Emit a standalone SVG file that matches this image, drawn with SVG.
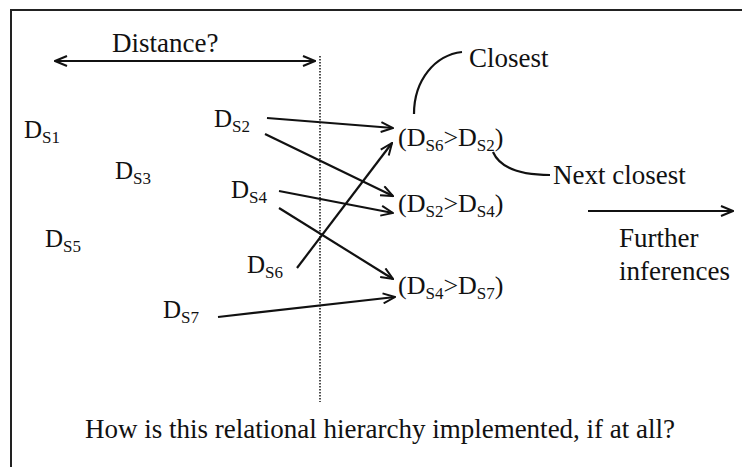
<svg xmlns="http://www.w3.org/2000/svg" width="742" height="467" viewBox="0 0 742 467">
<defs>
<style>
text{font-family:'Liberation Serif','Times New Roman','DejaVu Serif',serif;fill:#111}
.t{font-size:27px}
.d{font-size:25px}
.p{font-size:26px}
.s{font-size:17px}
.ln{stroke:#111;stroke-width:2.2;fill:none}
</style>
<marker id="ah" viewBox="0 0 14 12" refX="13" refY="6" markerWidth="14" markerHeight="12" markerUnits="userSpaceOnUse" orient="auto-start-reverse">
<path d="M1,1 L13,6 L1,11" fill="none" stroke="#111" stroke-width="2"/>
</marker>
</defs>
<rect width="742" height="467" fill="#fff"/>
<rect x="11" y="10" width="745" height="470" fill="none" stroke="#222" stroke-width="2"/>

<g font-family="Liberation Serif, Times New Roman, serif">
<g id="distance">
<text class="t" x="112" y="52">Distance?</text>
</g>
<g id="ds1"><text class="d" x="24" y="138">D<tspan class="s" dy="5">S1</tspan></text></g>
<g id="ds2"><text class="d" x="214" y="127">D<tspan class="s" dy="5">S2</tspan></text></g>
<g id="ds3"><text class="d" x="115" y="179">D<tspan class="s" dy="5">S3</tspan></text></g>
<g id="ds4"><text class="d" x="231" y="198">D<tspan class="s" dy="5">S4</tspan></text></g>
<g id="ds5"><text class="d" x="45" y="247">D<tspan class="s" dy="5">S5</tspan></text></g>
<g id="ds6"><text class="d" x="247" y="273">D<tspan class="s" dy="5">S6</tspan></text></g>
<g id="ds7"><text class="d" x="163" y="318">D<tspan class="s" dy="5">S7</tspan></text></g>

<g id="p62"><text class="p" x="398" y="146">(D<tspan class="s" dy="5">S6</tspan><tspan dy="-5">&gt;D</tspan><tspan class="s" dy="5">S2</tspan><tspan dy="-5">)</tspan></text></g>
<g id="p24"><text class="p" x="398" y="212">(D<tspan class="s" dy="5">S2</tspan><tspan dy="-5">&gt;D</tspan><tspan class="s" dy="5">S4</tspan><tspan dy="-5">)</tspan></text></g>
<g id="p47"><text class="p" x="398" y="294">(D<tspan class="s" dy="5">S4</tspan><tspan dy="-5">&gt;D</tspan><tspan class="s" dy="5">S7</tspan><tspan dy="-5">)</tspan></text></g>

<g id="closest"><text class="t" x="469" y="67">Closest</text></g>
<g id="nextclosest"><text class="t" x="553" y="184">Next closest</text></g>
<g id="further"><text class="t" x="619" y="247">Further</text><text class="t" x="619" y="280">inferences</text></g>
<g id="question"><text class="t" x="85" y="438">How is this relational hierarchy implemented, if at all?</text></g>
</g>

<line id="divider" x1="320" y1="56" x2="320" y2="402" stroke="#222" stroke-width="1.6" stroke-dasharray="1.5,1.5"/>

<g id="connectors">
<line class="ln" x1="55" y1="61" x2="315" y2="61" marker-start="url(#ah)" marker-end="url(#ah)"/>
<line class="ln" x1="267" y1="118" x2="393" y2="128" marker-end="url(#ah)"/>
<line class="ln" x1="265" y1="134" x2="393" y2="196" marker-end="url(#ah)"/>
<line class="ln" x1="279" y1="191" x2="393" y2="213" marker-end="url(#ah)"/>
<line class="ln" x1="279" y1="208" x2="393" y2="279" marker-end="url(#ah)"/>
<line class="ln" x1="297" y1="268" x2="392" y2="143" marker-end="url(#ah)"/>
<line class="ln" x1="218" y1="317" x2="395" y2="297" marker-end="url(#ah)"/>
<line class="ln" x1="588" y1="211" x2="733" y2="211" marker-end="url(#ah)"/>
<path class="ln" d="M414,114 C414,80 435,55 462,52"/>
<path class="ln" d="M493,152 C500,168 520,175 550,175"/>
</g>
</svg>
